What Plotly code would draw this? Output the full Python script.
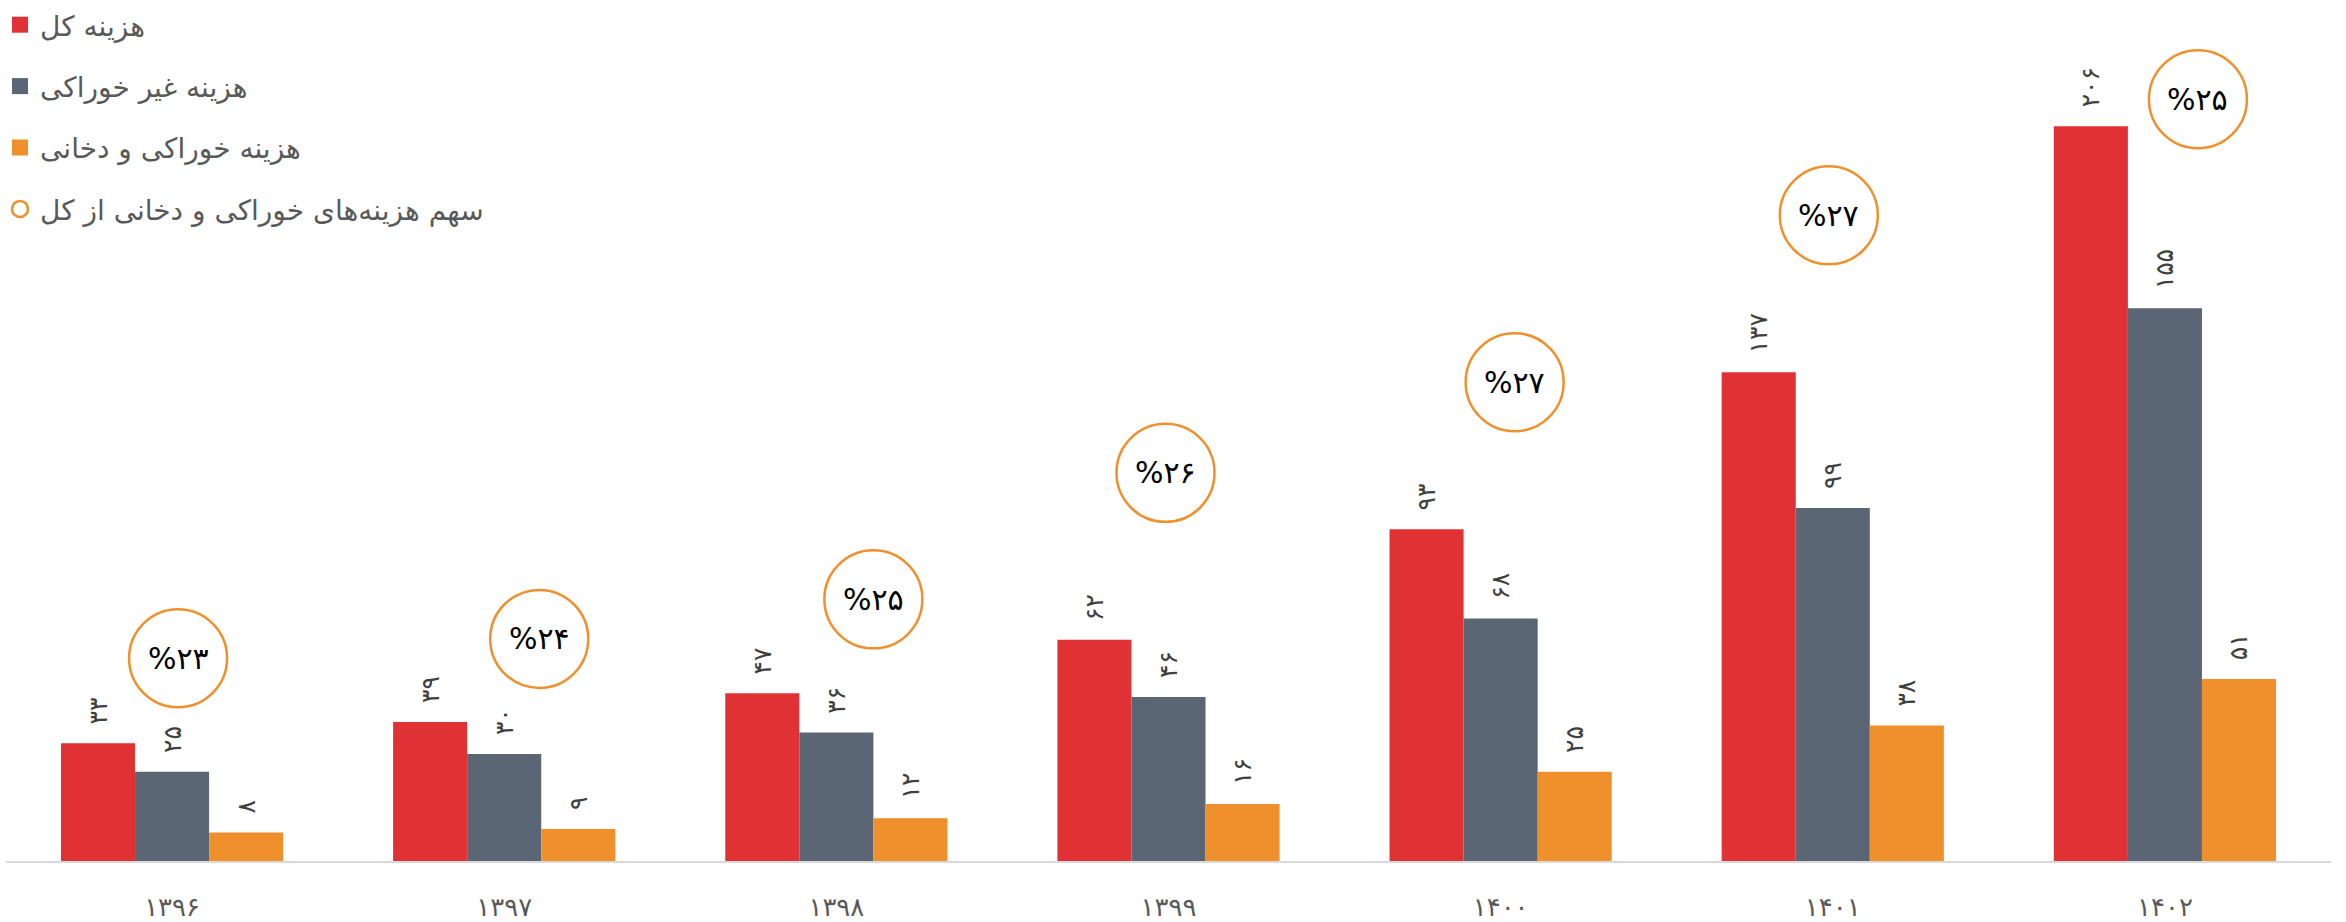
import plotly.graph_objects as go

# ---- data ----
years = ["۱۳۹۶", "۱۳۹۷", "۱۳۹۸", "۱۳۹۹", "۱۴۰۰", "۱۴۰۱", "۱۴۰۲"]
total_cost = [33, 39, 47, 62, 93, 137, 206]
nonfood_cost = [25, 30, 36, 46, 68, 99, 155]
food_cost = [8, 9, 12, 16, 25, 38, 51]
food_share = [23, 24, 25, 26, 27, 27, 25]

series_names = ["هزینه کل", "هزینه غیر خوراکی", "هزینه خوراکی و دخانی"]
share_name = "سهم هزینه‌های خوراکی و دخانی از کل"

# ---- styling ----
RED = "#E03135"
GRAY = "#5A6673"
ORANGE = "#F0902C"
LABEL_COLOR = "#404040"
TEXT_GRAY = "#595959"
FONT = "DejaVu Sans"

# callout placement (pixel offsets of share circles from top of the total bar)
callout_dx = [6, 35, 37, -3, 14, -4, 33]
callout_dy = [85, 83, 94, 167, 147, 157, 27]
R = 49

FA = str.maketrans("0123456789", "۰۱۲۳۴۵۶۷۸۹")


def fa(v):
    return str(v).translate(FA)


fig = go.Figure()
for name, vals, col in zip(series_names, [total_cost, nonfood_cost, food_cost], [RED, GRAY, ORANGE]):
    fig.add_trace(go.Bar(
        x=years, y=vals, name=name, marker=dict(color=col, line=dict(width=0)),
        text=["\u00a0\u00a0" + fa(v) for v in vals], textposition="outside", textangle=-90,
        textfont=dict(family=FONT, size=25, color=LABEL_COLOR),
        showlegend=False, hoverinfo="x+y+name",
    ))

# legend entries
for i, (name, col) in enumerate(zip(series_names, [RED, GRAY, ORANGE])):
    fig.add_trace(go.Scatter(
        x=[None], y=[None], mode="markers", name=name, legendgroup=f"g{i}",
        marker=dict(symbol="square", size=21, color=col, line=dict(width=0)),
    ))
fig.add_trace(go.Scatter(
    x=[None], y=[None], mode="markers", name=share_name, legendgroup="g3",
    marker=dict(symbol="circle-open", size=21, color=ORANGE, line=dict(width=2.5, color=ORANGE)),
))

# share callouts
for i, (yr, tot, sh) in enumerate(zip(years, total_cost, food_share)):
    dx, dy = callout_dx[i], callout_dy[i]
    fig.add_shape(
        type="circle", xref="x", yref="y", xsizemode="pixel", ysizemode="pixel",
        xanchor=i, yanchor=tot, x0=dx - R, x1=dx + R, y0=dy - R, y1=dy + R,
        line=dict(color=ORANGE, width=2.5), fillcolor="white", layer="above",
    )
    fig.add_annotation(
        x=i, y=tot, xref="x", yref="y", text="%" + fa(sh), showarrow=False,
        xshift=dx, yshift=dy, xanchor="center", yanchor="middle",
        font=dict(family=FONT, size=30, color="black"),
    )

fig.update_layout(
    width=2346, height=922,
    margin=dict(l=6, r=15, t=0, b=61, autoexpand=False),
    paper_bgcolor="white", plot_bgcolor="white",
    barmode="group", bargap=0.331, bargroupgap=0,
    font=dict(family=FONT, color=TEXT_GRAY),
    legend=dict(
        xref="container", yref="container", x=0.0, y=1.008, xanchor="left", yanchor="top",
        font=dict(family=FONT, size=28, color=TEXT_GRAY), tracegroupgap=22,
        itemsizing="trace", bgcolor="rgba(0,0,0,0)",
    ),
    xaxis=dict(
        showline=True, linecolor="#D9D9D9", linewidth=2, showgrid=False, zeroline=False,
        ticks="", ticklabelstandoff=22,
        tickfont=dict(family=FONT, size=26, color=TEXT_GRAY),
        range=[-0.5, 6.5],
    ),
    yaxis=dict(visible=False, range=[0, 241.4], showgrid=False, zeroline=False),
)

fig.write_html("out.html", config={"displayModeBar": False},
               post_script="document.body.style.margin='0';")
